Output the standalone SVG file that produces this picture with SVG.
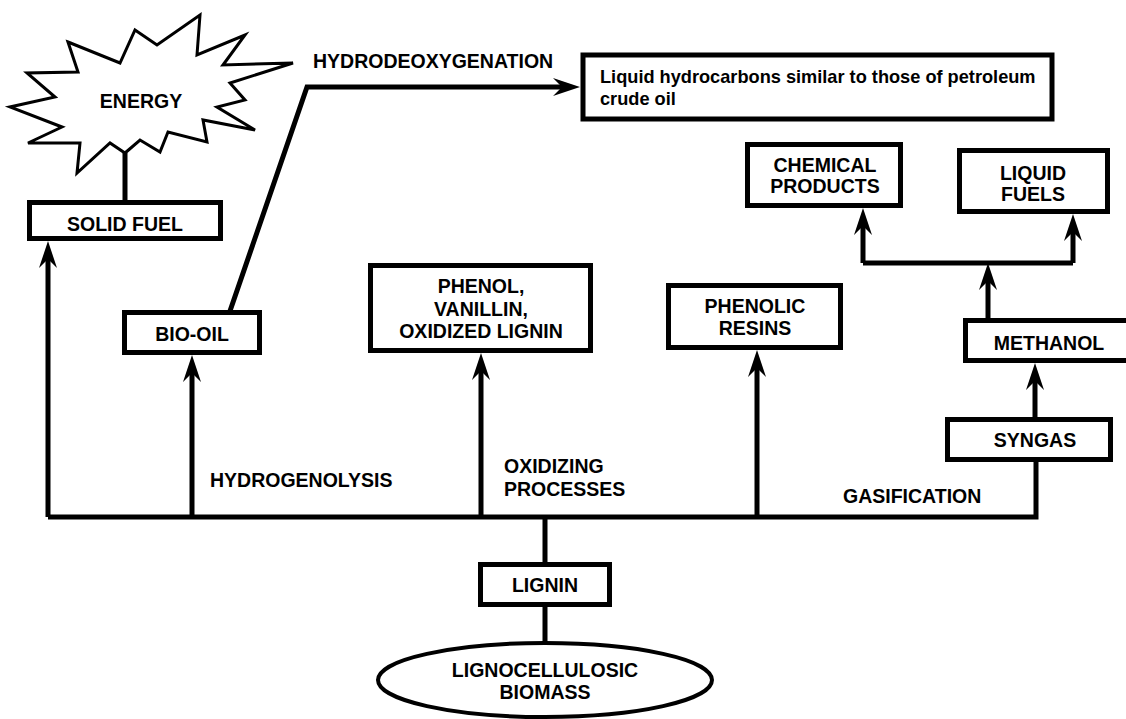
<svg xmlns="http://www.w3.org/2000/svg" width="1126" height="719" viewBox="0 0 1126 719">
<style>
.box{fill:#fff;stroke:#000;stroke-width:5}
.ln{fill:none;stroke:#000;stroke-width:5}
.t{font-family:"Liberation Sans",Arial,sans-serif;font-weight:bold;font-size:19.5px;fill:#000}
.s{font-size:18.2px}
.c{text-anchor:middle}
</style>
<defs>
<marker id="ah" markerUnits="userSpaceOnUse" viewBox="-16 -11 32 22" markerWidth="32" markerHeight="22" refX="0" refY="0" orient="auto">
<path d="M14,0 L-13,-9 L-4,0 L-13,9 Z" fill="#000"/>
</marker>
</defs>
<rect width="1126" height="719" fill="#fff"/>
<g id="connectors">
<path class="ln" d="M48,517 H1036 V460"/>
<path class="ln" d="M48,517 V255" marker-end="url(#ah)"/>
<path class="ln" d="M125,153 V201"/>
<path class="ln" d="M192,517 V369" marker-end="url(#ah)"/>
<path class="ln" d="M230,311 L307,87 H566" marker-end="url(#ah)"/>
<path class="ln" d="M481,517 V367" marker-end="url(#ah)"/>
<path class="ln" d="M757,517 V364" marker-end="url(#ah)"/>
<path class="ln" d="M545,517 V563 M545,606 V643"/>
<path class="ln" d="M1035,418 V377" marker-end="url(#ah)"/>
<path class="ln" d="M988,319 V277" marker-end="url(#ah)"/>
<path class="ln" d="M863,263 H1073"/>
<path class="ln" d="M863,263 V222" marker-end="url(#ah)"/>
<path class="ln" d="M1073,263 V228" marker-end="url(#ah)"/>
</g>
<g id="energy">
<polygon points="68,42 120,63 135,30 157,45 200,15 197,55 245,35 223,65 293,63 230,83 245,100 217,107 255,130 203,120 207,142 168,132 160,152 140,140 125,153 110,143 77,173 80,143 28,143 62,127 10,107 55,97 27,73 78,72" fill="#fff" stroke="#000" stroke-width="3" stroke-linejoin="miter"/>
<text class="t c" x="141" y="108">ENERGY</text>
</g>
<g id="solid-fuel">
<rect class="box" x="29.5" y="202.5" width="191" height="36"/>
<text class="t c" x="125" y="231">SOLID FUEL</text>
</g>
<g id="bio-oil">
<rect class="box" x="124.5" y="312.5" width="135" height="40"/>
<text class="t c" x="192" y="341">BIO-OIL</text>
</g>
<g id="hydrodeoxygenation-label">
<text class="t" x="313" y="68" font-weight="normal">HYDRODEOXYGENATION</text>
</g>
<g id="liquid-hydrocarbons">
<rect class="box" x="583" y="55" width="469" height="64" stroke-width="6"/>
<text class="t s" x="600" y="83">Liquid hydrocarbons similar to those of petroleum</text>
<text class="t s" x="600" y="105">crude oil</text>
</g>
<g id="phenol">
<rect class="box" x="370.5" y="265.5" width="220" height="85"/>
<text class="t c" x="481" y="293">PHENOL,</text>
<text class="t c" x="481" y="316">VANILLIN,</text>
<text class="t c" x="481" y="338">OXIDIZED LIGNIN</text>
</g>
<g id="phenolic-resins">
<rect class="box" x="668.5" y="285.5" width="172" height="62"/>
<text class="t c" x="755" y="313">PHENOLIC</text>
<text class="t c" x="755" y="335">RESINS</text>
</g>
<g id="chemical-products">
<rect class="box" x="747.5" y="144.5" width="153" height="61"/>
<text class="t c" x="825" y="172">CHEMICAL</text>
<text class="t c" x="825" y="193">PRODUCTS</text>
</g>
<g id="liquid-fuels">
<rect class="box" x="959.5" y="150.5" width="148" height="61"/>
<text class="t c" x="1033" y="180">LIQUID</text>
<text class="t c" x="1033" y="201">FUELS</text>
</g>
<g id="methanol">
<rect class="box" x="965.5" y="320.5" width="170" height="40"/>
<text class="t c" x="1049" y="350">METHANOL</text>
</g>
<g id="syngas">
<rect class="box" x="947.5" y="419.5" width="163" height="40"/>
<text class="t c" x="1035" y="447">SYNGAS</text>
</g>
<g id="labels">
<text class="t" x="210" y="487">HYDROGENOLYSIS</text>
<text class="t" x="504" y="473">OXIDIZING</text>
<text class="t" x="504" y="496">PROCESSES</text>
<text class="t" x="843" y="503">GASIFICATION</text>
</g>
<g id="lignin">
<rect class="box" x="480.5" y="564.5" width="129" height="40"/>
<text class="t c" x="545" y="592">LIGNIN</text>
</g>
<g id="biomass">
<ellipse cx="545" cy="680" rx="167" ry="37" fill="#fff" stroke="#000" stroke-width="4"/>
<text class="t c" x="545" y="677">LIGNOCELLULOSIC</text>
<text class="t c" x="545" y="699">BIOMASS</text>
</g>
</svg>
